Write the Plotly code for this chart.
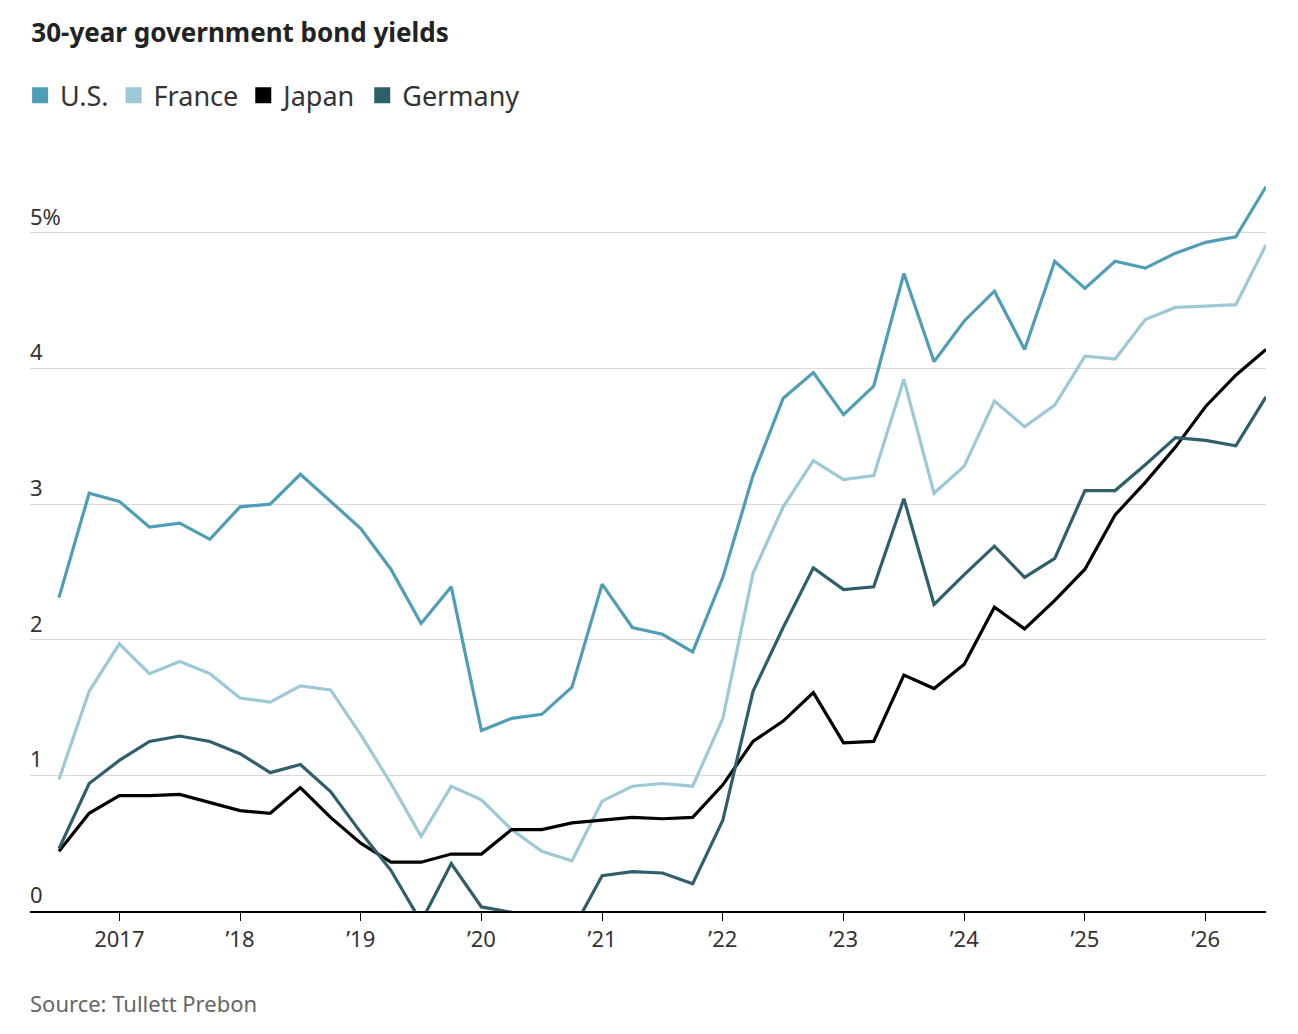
import plotly.graph_objects as go

dates = [2016.5 + 0.25 * i for i in range(41)]
us = [2.31,3.08,3.02,2.83,2.86,2.74,2.98,3.0,3.22,3.02,2.82,2.52,2.12,2.39,1.33,1.42,1.45,1.65,2.41,2.09,2.04,1.91,2.46,3.21,3.78,3.97,3.66,3.87,4.70,4.05,4.35,4.57,4.14,4.79,4.59,4.79,4.74,4.85,4.93,4.97,5.34]
france = [0.97,1.62,1.97,1.75,1.84,1.75,1.57,1.54,1.66,1.63,1.30,0.94,0.55,0.92,0.82,0.60,0.44,0.37,0.81,0.92,0.94,0.92,1.42,2.49,2.98,3.32,3.18,3.21,3.92,3.08,3.28,3.76,3.57,3.73,4.09,4.07,4.36,4.45,4.46,4.47,4.91]
japan = [0.44,0.72,0.85,0.85,0.86,0.80,0.74,0.72,0.91,0.69,0.50,0.36,0.36,0.42,0.42,0.60,0.60,0.65,0.67,0.69,0.68,0.69,0.93,1.25,1.40,1.61,1.24,1.25,1.74,1.64,1.82,2.24,2.08,2.29,2.52,2.92,3.16,3.42,3.72,3.95,4.14]
germany = [0.46,0.94,1.11,1.25,1.29,1.25,1.16,1.02,1.08,0.88,0.58,0.30,-0.08,0.35,0.03,-0.01,-0.20,-0.15,0.26,0.29,0.28,0.20,0.67,1.62,2.09,2.53,2.37,2.39,3.04,2.26,2.48,2.69,2.46,2.60,3.10,3.10,3.29,3.49,3.47,3.43,3.79]

names = ["U.S.", "France", "Japan", "Germany"]
colors = ["#4f9db7", "#9dc9d6", "#000000", "#2f5f6b"]
series = [us, france, japan, germany]

tick_vals = [2017, 2018, 2019, 2020, 2021, 2022, 2023, 2024, 2025, 2026]
tick_text = ["2017", "’18", "’19", "’20", "’21", "’22", "’23", "’24", "’25", "’26"]
y_vals = [0, 1, 2, 3, 4, 5]
y_text = ["0", "1", "2", "3", "4", "5%"]

fig = go.Figure()
for n, c, s in zip(names, colors, series):
    fig.add_trace(go.Scatter(x=dates, y=s, mode="lines", line=dict(color=c, width=3.2),
                             showlegend=False, hoverinfo="skip"))
for n, c in zip(names, colors):
    fig.add_trace(go.Scatter(x=[None], y=[None], mode="markers", name=n,
                             marker=dict(symbol="square", size=20, color=c)))

anns = []
for v, t in zip(y_vals, y_text):
    anns.append(dict(x=0, xref="paper", y=v, yref="y", text=t, showarrow=False,
                     xanchor="left", yanchor="bottom", xshift=-2,
                     font=dict(size=22, color="#333")))
anns.append(dict(x=0, xref="paper", y=-0.1, yref="paper", xanchor="left", yanchor="top",
                 xshift=-2, text="Source: Tullett Prebon", showarrow=False,
                 font=dict(size=22, color="#666")))

fig.update_layout(
    width=1298, height=1034, paper_bgcolor="white", plot_bgcolor="white",
    margin=dict(l=20, r=40, t=157, b=131),
    font=dict(family="Noto Sans, Liberation Sans, sans-serif", color="#333"),
    title=dict(text="<b>30-year government bond yields</b>", x=0.018, xref="container",
               xanchor="left", y=0.985, yanchor="top", font=dict(size=26, color="#222")),
    legend=dict(orientation="h", x=-0.008, y=1.06, xanchor="left", yanchor="bottom",
                font=dict(size=27, color="#333"), itemwidth=30, traceorder="normal"),
    xaxis=dict(range=[2016.26, 2026.5], tickvals=tick_vals, ticktext=tick_text,
               ticks="outside", ticklen=8, tickcolor="#000", showgrid=False,
               showline=True, linecolor="#000", linewidth=1.5,
               tickfont=dict(size=22, color="#333"), zeroline=False),
    yaxis=dict(range=[0, 5.5], tickvals=y_vals, showticklabels=False, showgrid=True,
               gridcolor="#d9d9d9", gridwidth=1, zeroline=False, fixedrange=True),
    annotations=anns,
)
fig.write_html("out.html")
